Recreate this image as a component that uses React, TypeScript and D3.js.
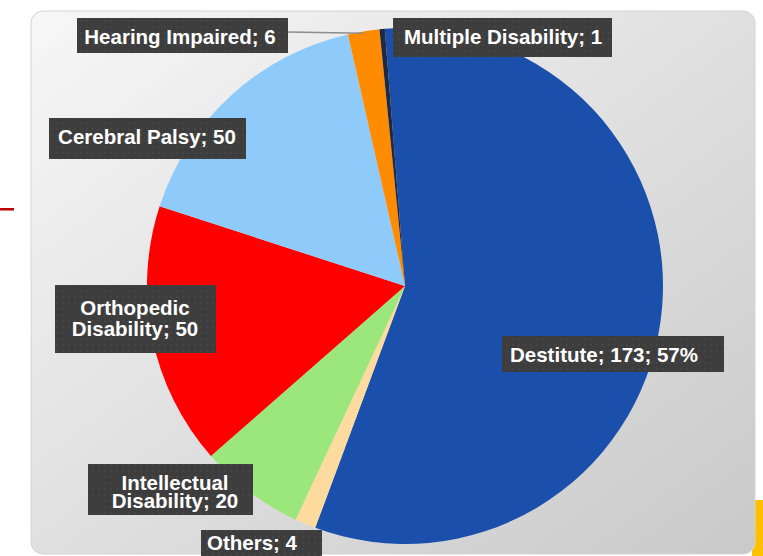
import React, { useRef, useEffect } from 'react';
import * as d3 from 'd3';

// chart data
const categories = ['Destitute', 'Others', 'Intellectual Disability', 'Orthopedic Disability', 'Cerebral Palsy', 'Hearing Impaired', 'Multiple Disability'];
const values = [173, 4, 20, 50, 50, 6, 1];
const colors = ['#1a4fac', '#fddb9f', '#9be77b', '#ff0000', '#8ecbfb', '#ff8c00', '#1f2944'];
const showPercent = [true, false, false, false, false, false, false];
const wrapLabel = [false, false, true, true, false, false, false];

// label box placement (box corners, text centre x, baselines)
const labelLayout = [
  { x0: 502, y0: 336, x1: 724, y1: 372, cx: 604, base: [361.5] },
  { x0: 201, y0: 530, x1: 322, y1: 562, cx: 252, base: [549.5] },
  { x0: 88, y0: 464, x1: 253, y1: 515, cx: 175, base: [489.5, 507.5] },
  { x0: 55, y0: 285, x1: 216, y1: 353, cx: 135, base: [315, 335.5] },
  { x0: 49, y0: 118, x1: 246, y1: 159, cx: 147, base: [144] },
  { x0: 77, y0: 18, x1: 288, y1: 53, cx: 180, base: [43.5] },
  { x0: 393, y0: 18, x1: 612, y1: 57, cx: 503, base: [43.5] },
];

const W = 763;
const H = 556;

const App = () => {
  const ref = useRef<SVGSVGElement>(null);

  useEffect(() => {
    const svg = d3.select(ref.current);
    svg.selectAll('*').remove();

    const defs = svg.append('defs');
    const grad = defs.append('linearGradient')
      .attr('id', 'panelGrad')
      .attr('x1', 0).attr('y1', 0).attr('x2', 1).attr('y2', 1);
    grad.append('stop').attr('offset', '0%').attr('stop-color', '#f7f7f7');
    grad.append('stop').attr('offset', '100%').attr('stop-color', '#c9c9c9');

    // dotted texture of the label boxes
    const pat = defs.append('pattern')
      .attr('id', 'boxTex')
      .attr('width', 6).attr('height', 6)
      .attr('patternUnits', 'userSpaceOnUse');
    pat.append('rect').attr('width', 6).attr('height', 6).attr('fill', '#3d3d3d');
    pat.append('circle').attr('cx', 3).attr('cy', 3).attr('r', 1).attr('fill', '#474747');

    // slide decorations around the chart
    svg.append('rect').attr('x', 752).attr('y', 500).attr('width', 11).attr('height', 56).attr('fill', '#ffc000');
    svg.append('rect').attr('x', 0).attr('y', 208).attr('width', 14).attr('height', 2.5).attr('fill', '#c00000');

    svg.append('rect')
      .attr('x', 31).attr('y', 11)
      .attr('width', 724).attr('height', 543)
      .attr('rx', 12)
      .attr('fill', 'url(#panelGrad)')
      .attr('stroke', '#d4d4d4')
      .attr('stroke-width', 1);

    const cx = 405;
    const cy = 286;
    const radius = 258;
    const startAngle = -4.5 * Math.PI / 180;

    const data = categories.map((c, i) => ({ cat: c, value: values[i], i }));
    const total = d3.sum(values);

    const pie = d3.pie<any>()
      .value(d => d.value)
      .sort(null)
      .startAngle(startAngle)
      .endAngle(startAngle + 2 * Math.PI);
    const arc = d3.arc<any>().innerRadius(0).outerRadius(radius);
    const arcs = pie(data);

    const g = svg.append('g').attr('transform', `translate(${cx},${cy})`);
    g.selectAll('path')
      .data(arcs)
      .enter()
      .append('path')
      .attr('d', arc)
      .attr('fill', d => colors[d.data.i]);

    // leader line for the small Hearing Impaired slice
    const hi = arcs[5];
    const mid = (hi.startAngle + hi.endAngle) / 2;
    const lay = labelLayout[5];
    svg.append('line')
      .attr('x1', lay.x1).attr('y1', 32)
      .attr('x2', cx + (radius - 2) * Math.sin(mid))
      .attr('y2', cy - (radius - 2) * Math.cos(mid))
      .attr('stroke', '#8c8c8c')
      .attr('stroke-width', 1.5);

    const labels = svg.append('g');
    data.forEach((d, i) => {
      const L = labelLayout[i];
      let txt = `${d.cat}; ${d.value}`;
      if (showPercent[i]) txt += `; ${Math.round(d.value / total * 100)}%`;
      let lines = [txt];
      if (wrapLabel[i]) {
        const k = txt.indexOf(' ');
        lines = [txt.slice(0, k), txt.slice(k + 1)];
      }
      labels.append('rect')
        .attr('x', L.x0).attr('y', L.y0)
        .attr('width', L.x1 - L.x0).attr('height', L.y1 - L.y0)
        .attr('fill', 'url(#boxTex)');
      lines.forEach((ln, j) => {
        labels.append('text')
          .attr('x', L.cx)
          .attr('y', L.base[j])
          .attr('text-anchor', 'middle')
          .attr('fill', '#ffffff')
          .style('font-family', '"Liberation Sans", Arial, sans-serif')
          .style('font-weight', 'bold')
          .style('font-size', '20.5px')
          .text(ln);
      });
    });
  }, []);

  return (
    <svg
      ref={ref}
      width={W}
      height={H}
      style={{ position: 'absolute', left: 0, top: 0, background: '#ffffff' }}
    />
  );
};

export default App;
